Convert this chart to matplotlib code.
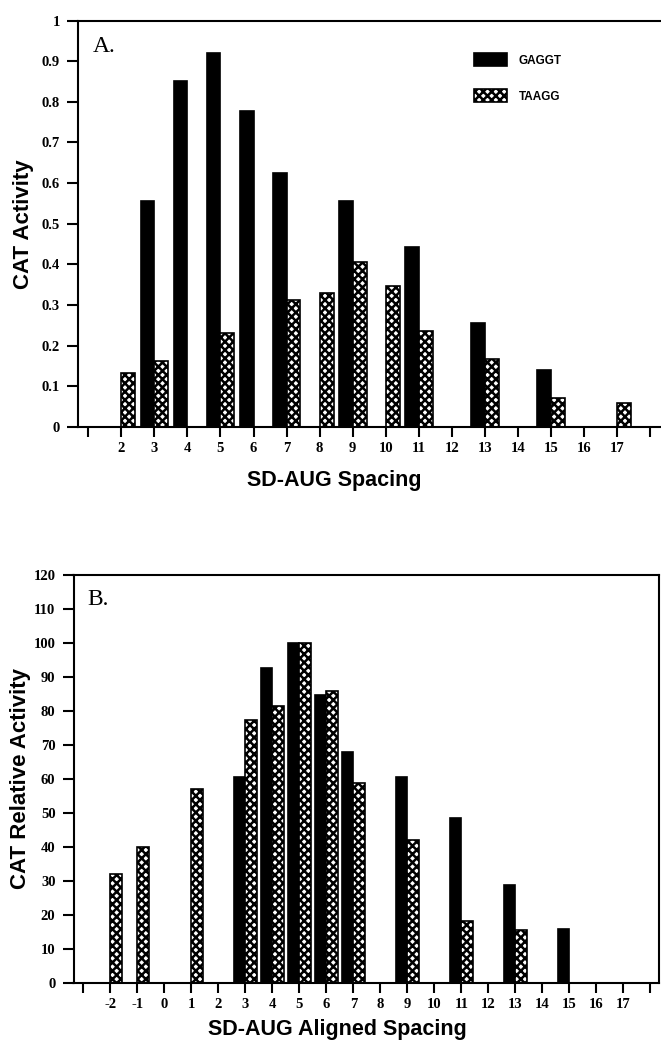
import numpy as np
import matplotlib
matplotlib.use("Agg")
import matplotlib.pyplot as plt
from matplotlib.patches import Patch

# panel A: SD-AUG spacing
spacingA = np.arange(2, 18)
gaggtA = [0, 0.555, 0.851, 0.92, 0.777, 0.624, 0, 0.555, 0, 0.444, 0, 0.257, 0, 0.14, 0, 0]
taaggA = [0.132, 0.163, 0, 0.232, 0, 0.313, 0.329, 0.406, 0.348, 0.236, 0, 0.167, 0, 0.072, 0, 0.06]

# panel B: aligned spacing (relative activity)
spacingB = np.arange(-2, 18)
gaggtB = [0, 0, 0, 0, 0, 60.4, 92.5, 100, 84.6, 67.7, 0, 60.4, 0, 48.4, 0, 28.6, 0, 15.7, 0, 0]
taaggB = [31.9, 39.8, 0, 57.0, 0, 77.1, 81.3, 100, 85.7, 58.7, 0, 41.8, 0, 18.2, 0, 15.5, 0, 0, 0, 0]

plt.rcParams['hatch.linewidth'] = 1.8
plt.rcParams['hatch.color'] = 'black'

SANS = 'Liberation Sans'
SERIF = 'Liberation Serif'
W = 0.42
HATCH = 'xxxx'


def style_axis(ax, xt, yt, ylabels):
    for s in ax.spines.values():
        s.set_linewidth(1.5)
    ax.set_xticks(xt)
    ax.set_xticklabels([''] + [str(v) for v in xt[1:-1]] + [''],
                       fontfamily=SERIF, fontweight='bold', fontsize=10.5)
    ax.set_yticks(yt)
    ax.set_yticklabels(ylabels, fontfamily=SERIF, fontweight='bold', fontsize=10.5)
    ax.tick_params(axis='x', direction='out', length=7, width=1.5, pad=4)
    ax.tick_params(axis='y', direction='out', length=8, width=1.5, pad=5)


def draw_bars(ax, x, g, t):
    ax.bar(x, g, width=-W, align='edge', color='black', edgecolor='black', linewidth=1.2)
    ax.bar(x, t, width=W, align='edge', color='white', edgecolor='black',
           hatch=HATCH, linewidth=1.2)


fig = plt.figure(figsize=(6.61, 10.48), dpi=100)

# ---- A ----
axA = fig.add_axes([78 / 661, 0.5926, 583 / 661, 0.3878])
draw_bars(axA, spacingA, gaggtA, taaggA)
axA.set_xlim(0.688, 18.33)
axA.set_ylim(0, 1)
style_axis(axA, np.arange(1, 19), np.arange(0, 1.01, 0.1),
           ['0'] + ['%.1f' % v for v in np.arange(0.1, 0.95, 0.1)] + ['1'])
axA.spines['right'].set_visible(False)
axA.set_ylabel('CAT Activity', fontfamily=SANS, fontweight='bold', fontsize=16)
axA.yaxis.set_label_coords(-0.0755, 0.5)
axA.set_xlabel('SD-AUG Spacing', fontfamily=SANS, fontweight='bold', fontsize=15.5)
axA.xaxis.set_label_coords(0.44, -0.106)
axA.text(0.025, 0.9225, 'A.', transform=axA.transAxes, fontfamily=SERIF,
         fontsize=17, va='baseline', ha='left')

handles = [Patch(facecolor='black', edgecolor='black', linewidth=1.2, label='GAGGT'),
           Patch(facecolor='white', edgecolor='black', hatch=HATCH, linewidth=1.2, label='TAAGG')]
leg = axA.legend(handles=handles, loc='upper left', bbox_to_anchor=(0.679, 0.92),
                 frameon=False, borderpad=0, borderaxespad=0,
                 handlelength=2.8, handleheight=1.36, handletextpad=1.0,
                 labelspacing=1.9, prop={'family': SANS, 'weight': 'bold', 'size': 8.5})

# ---- B ----
axB = fig.add_axes([73.5 / 661, 0.0625, 585.5 / 661, 0.3893])
draw_bars(axB, spacingB, gaggtB, taaggB)
axB.set_xlim(-3.363, 18.32)
axB.set_ylim(0, 120)
style_axis(axB, np.arange(-3, 19), np.arange(0, 121, 10),
           [str(v) for v in range(0, 121, 10)])
axB.set_ylabel('CAT Relative Activity', fontfamily=SANS, fontweight='bold', fontsize=16)
axB.yaxis.set_label_coords(-0.072, 0.5)
axB.set_xlabel('SD-AUG Aligned Spacing', fontfamily=SANS, fontweight='bold', fontsize=15.5)
axB.xaxis.set_label_coords(0.45, -0.089)
axB.text(0.0236, 0.925, 'B.', transform=axB.transAxes, fontfamily=SERIF,
         fontsize=17, va='baseline', ha='left')

fig.savefig('out.png', dpi=100)
